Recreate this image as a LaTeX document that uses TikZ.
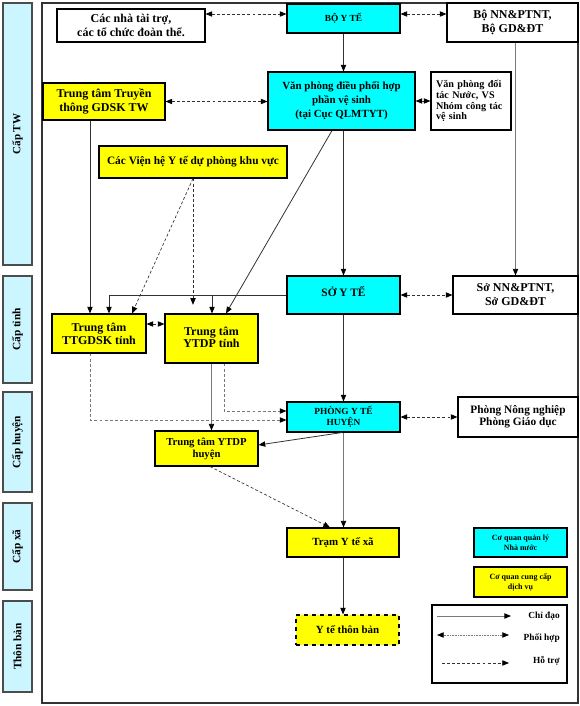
\documentclass[tikz,border=0pt]{standalone}
\usepackage{fontspec}
\setmainfont{Liberation Serif}
\usetikzlibrary{arrows.meta,calc}
\def\pxu{0.75pt}
\definecolor{cyanbox}{RGB}{0,255,255}
\definecolor{yelbox}{RGB}{255,255,0}
\definecolor{lvlbox}{RGB}{204,246,255}
\definecolor{lnk}{RGB}{50,50,50}
\definecolor{lnkl}{RGB}{120,120,120}
\tikzset{
  bx/.style={draw=black, line width=0.8pt, inner sep=0pt, align=center},
  cbox/.style={bx, fill=cyanbox},
  ybox/.style={bx, fill=yelbox},
  wbox/.style={bx, fill=white},
  lvl/.style={draw=black!70, line width=0.8pt, fill=lvlbox, inner sep=0pt, minimum width=29*\pxu},
  tip/.style={-{Triangle[length=5pt,width=4pt,color=black]}},
  tips/.style={{Triangle[length=5pt,width=4pt,color=black]}-{Triangle[length=5pt,width=4pt,color=black]}},
  solidln/.style={tip, draw=lnk, line width=0.6pt},
  solidlt/.style={tip, draw=lnkl, line width=0.7pt},
  coord/.style={tips, draw=lnk, line width=0.6pt, dash pattern=on 2.2pt off 1.6pt},
  supp/.style={tip, draw=lnk, line width=0.5pt, dash pattern=on 2.2pt off 1.6pt},
  suppl/.style={tip, draw=lnkl, line width=0.6pt, dash pattern=on 2.2pt off 1.6pt},
  fA/.style={font=\fontsize{9}{10}\selectfont\bfseries},
  fB/.style={font=\fontsize{8.2}{10.5}\selectfont\bfseries},
  fC/.style={font=\fontsize{7.6}{8}\selectfont\bfseries},
  fD/.style={font=\fontsize{6}{7.5}\selectfont\bfseries},
}
\begin{document}
\begin{tikzpicture}[x=0.75pt,y=-0.75pt]
\useasboundingbox (0,0) rectangle (580,706);
% frame
\draw[line width=0.8pt, draw=black!80] (42,3) rectangle (578,703);
% level labels
\node[lvl, minimum height=262*\pxu] (ltw) at (17.5,134) {\rotatebox{90}{\fontsize{8.3}{9}\selectfont\bfseries Cấp TW}};
\node[lvl, minimum height=107*\pxu] (ltinh) at (17.5,329.5) {\rotatebox{90}{\fontsize{8.5}{9}\selectfont\bfseries Cấp tỉnh}};
\node[lvl, minimum height=100*\pxu] (lhuyen) at (17.5,442) {\rotatebox{90}{\fontsize{8.5}{9}\selectfont\bfseries Cấp huyện}};
\node[lvl, minimum height=87*\pxu] (lxa) at (17.5,546.5) {\rotatebox{90}{\fontsize{8.5}{9}\selectfont\bfseries Cấp xã}};
\node[lvl, minimum height=91*\pxu] (lthon) at (17.5,646.5) {\rotatebox{90}{\fontsize{8.5}{9}\selectfont\bfseries Thôn bản}};
% nodes
\node[wbox, fA, minimum width=148*\pxu, minimum height=33*\pxu] (donors) at (131,25.5) {Các nhà tài trợ,\\các tổ chức đoàn thể.};
\node[cbox, font=\fontsize{7}{8}\selectfont\bfseries, minimum width=113*\pxu, minimum height=29*\pxu] (byt) at (343.5,18.5) {BỘ Y TẾ};
\node[wbox, font=\fontsize{9}{11}\selectfont\bfseries, minimum width=131*\pxu, minimum height=39*\pxu] (bonn) at (512.5,22.5) {Bộ NN\&PTNT,\\Bộ GD\&ĐT};
\node[cbox, fB, minimum width=147*\pxu, minimum height=58*\pxu] (vp) at (341.5,101) {Văn phòng điều phối hợp\\phần vệ sinh\\(tại Cục QLMTYT)};
\node[wbox, fC, align=left, text width=70*\pxu, minimum width=80*\pxu, minimum height=58*\pxu] (vpdt) at (471,101) {Văn phòng đối\\tác Nước, VS\\Nhóm công tác\\vệ sinh};
\node[ybox, fA, minimum width=122*\pxu, minimum height=37*\pxu] (tttw) at (104,101.5) {Trung tâm Truyền\\thông GDSK TW};
\node[ybox, font=\fontsize{8.5}{10}\selectfont\bfseries, minimum width=188*\pxu, minimum height=32*\pxu] (vien) at (193,162) {Các Viện hệ Y tế dự phòng khu vực};
\node[cbox, font=\fontsize{8.5}{10}\selectfont\bfseries, minimum width=113*\pxu, minimum height=38*\pxu] (syt) at (343.5,295) {\raisebox{6pt}{SỞ Y TẾ}};
\node[wbox, font=\fontsize{9}{10.5}\selectfont\bfseries, minimum width=125*\pxu, minimum height=38*\pxu] (sonn) at (515.5,295) {Sở NN\&PTNT,\\Sở GD\&ĐT};
\node[ybox, fA, minimum width=94*\pxu, minimum height=39*\pxu] (ttgdsk) at (99,333.5) {Trung tâm\\TTGDSK tỉnh};
\node[ybox, fA, minimum width=93*\pxu, minimum height=49*\pxu] (ytdpt) at (211.5,338.5) {\raisebox{4pt}{\begin{tabular}{@{}c@{}}Trung tâm\\[-1pt]YTDP tỉnh\end{tabular}}};
\node[cbox, font=\fontsize{7}{8}\selectfont\bfseries, minimum width=113*\pxu, minimum height=30*\pxu] (pyt) at (343.5,417) {PHÒNG Y TẾ\\HUYỆN};
\node[wbox, font=\fontsize{8.5}{9}\selectfont\bfseries, minimum width=120*\pxu, minimum height=40*\pxu] (pnn) at (518,417) {Phòng Nông nghiệp\\Phòng Giáo dục};
\node[ybox, font=\fontsize{8}{9}\selectfont\bfseries, minimum width=103*\pxu, minimum height=35*\pxu] (ytdph) at (206.5,448.5) {Trung tâm YTDP\\huyện};
\node[ybox, font=\fontsize{8.2}{9}\selectfont\bfseries, minimum width=112*\pxu, minimum height=29*\pxu] (tram) at (343,542.5) {Trạm Y tế xã};
\node[ybox, dashed, font=\fontsize{8.2}{9}\selectfont\bfseries, minimum width=103*\pxu, minimum height=30*\pxu] (thon) at (347.5,630) {Y tế thôn bản};
% legend
\node[cbox, fD, minimum width=93*\pxu, minimum height=29*\pxu] (legc) at (520.5,542.5) {Cơ quan quản lý\\Nhà nước};
\node[ybox, fD, minimum width=93*\pxu, minimum height=30*\pxu] (legy) at (520.5,582) {Cơ quan cung cấp\\dịch vụ};
\node[wbox, minimum width=135*\pxu, minimum height=78*\pxu] (legbox) at (499.5,644) {};
\coordinate (la1) at (437,616); \coordinate (lb1) at (511,616);
\coordinate (la2) at (437,635); \coordinate (lb2) at (509,635);
\coordinate (la3) at (442,663); \coordinate (lb3) at (509,663);
\draw[solidlt] (la1) -- (lb1);
\draw[tips, draw=lnkl, line width=0.5pt, dash pattern=on 0.6pt off 0.6pt] (la2) -- (lb2);
\draw[supp] (la3) -- (lb3);
\node[anchor=east, font=\fontsize{7}{8}\selectfont\bfseries, inner sep=0pt] (t1) at (560,616) {Chỉ đạo};
\node[anchor=east, font=\fontsize{7}{8}\selectfont\bfseries, inner sep=0pt] (t2) at (560,638) {Phối hợp};
\node[anchor=east, font=\fontsize{7}{8}\selectfont\bfseries, inner sep=0pt] (t3) at (560,661) {Hỗ trợ};
% connectors top
\draw[coord] ([yshift=4.5*\pxu]byt.west -| donors.east) -- ([yshift=4.5*\pxu]byt.west);
\draw[coord] ([yshift=4.5*\pxu]byt.east) -- ([yshift=4.5*\pxu]byt.east -| bonn.west);
\draw[solidln] (byt.south) -- (byt.south |- vp.north);
\draw[coord] (tttw.east) -- (tttw.east -| vp.west);
\draw[coord] (vp.east) -- (vp.east -| vpdt.west);
\draw[solidln] (syt.north |- vp.south) -- (syt.north);
\draw[solidlt] (sonn.north |- bonn.south) -- (sonn.north);
\draw[solidln] ([xshift=-9.5*\pxu]vp.south) -- ([xshift=14.5*\pxu]ytdpt.north);
\draw[solidln] ([xshift=-14*\pxu]tttw.south) -- ([xshift=-14*\pxu]tttw.south |- ttgdsk.north);
\draw[supp] (vien.south) -- ([xshift=33*\pxu]ttgdsk.north);
\draw[supp, shorten >=6.5pt] (vien.south) -- (vien.south |- ytdpt.north);
% province level
\coordinate (j1) at (109,295);
\coordinate (j2) at (212,295);
\draw[solidln] (syt.west) -| (ttgdsk.north -| j1);
\draw[solidln] (j2) -- (j2 |- ytdpt.north);
\draw[coord] (syt.east) -- (sonn.west);
\draw[coord] ([yshift=9.5*\pxu]ttgdsk.east) -- ([yshift=9.5*\pxu]ttgdsk.east -| ytdpt.west);
\draw[solidln] (syt.south) -- (pyt.north);
\draw[coord] (pyt.east) -- (pnn.west);
% district level
\draw[solidlt] (ytdpt.south) -- (ytdpt.south |- ytdph.north);
\draw[suppl] ([xshift=-9*\pxu]ttgdsk.south) |- ([yshift=-3*\pxu]pyt.west);
\draw[suppl] ([xshift=12.5*\pxu]ytdpt.south) |- ([yshift=6*\pxu]pyt.west);
\draw[solidln] ([xshift=-1.5*\pxu]pyt.south) -- ([yshift=3.5*\pxu]ytdph.east);
\draw[solidlt] (pyt.south) -- (pyt.south |- tram.north);
\draw[supp] ([xshift=3.5*\pxu]ytdph.south) -- ([xshift=-13*\pxu]tram.north);
\draw[solidln] (tram.south) -- (tram.south |- thon.north);
\end{tikzpicture}
\end{document}
